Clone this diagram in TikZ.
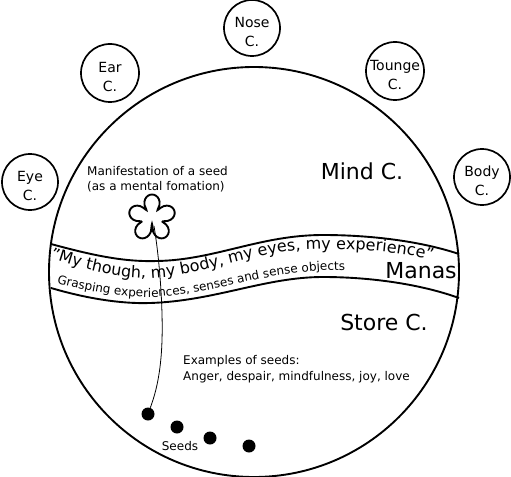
\documentclass[tikz,border=0pt]{standalone}
\usepackage{fontspec}
\setmainfont{DejaVu Sans}
\usetikzlibrary{decorations.text}
\tikzset{
 sense/.style={circle,draw,line width=1.7pt,minimum size=56bp,inner sep=0pt},
 senselabel/.style={inner sep=0pt,align=center,font=\fontsize{14bp}{19bp}\selectfont},
 seed/.style={circle,fill=black,minimum size=13bp,inner sep=0pt},
 big/.style={font=\fontsize{22bp}{26bp}\selectfont},
 small/.style={font=\fontsize{12bp}{15.5bp}\selectfont,align=left,inner sep=0pt},
 band/.style={line width=1.9pt},
}
\begin{document}
\begin{tikzpicture}[x=1bp,y=-1bp]
\useasboundingbox (0,0) rectangle (511,477);
\node[circle,draw,line width=1.9pt,minimum size=410bp,inner sep=0pt] (main) at (254,272) {};
\node[sense] (eye) at (30,182) {};
\node[sense,minimum size=58bp] (ear) at (110,73) {};
\node[sense] (nose) at (252,28) {};
\node[sense,minimum size=58bp] (tounge) at (395,71) {};
\node[sense] (body) at (482,177) {};
\node[senselabel] (eyet) at ([yshift=-4bp]eye.center) {Eye\\C.};
\node[senselabel] (eart) at ([yshift=-4bp]ear.center) {Ear\\C.};
\node[senselabel] (noset) at ([yshift=-4bp]nose.center) {Nose\\C.};
\node[senselabel] (tounget) at ([yshift=-4bp]tounge.center) {Tounge\\C.};
\node[senselabel] (bodyt) at ([yshift=-4bp]body.center) {Body\\C.};
\draw[band] (51,244) .. controls (95,256) and (125,262) .. (157,261) .. controls (215,260) and (260,235) .. (323,235) .. controls (370,235) and (420,241) .. (459,254);
\draw[band] (51,288) .. controls (85,298) and (120,304) .. (150,303) .. controls (215,301) and (265,277) .. (323,277) .. controls (370,277) and (420,284) .. (459,298);
\node[big] (mind) at (362,171) {Mind C.};
\node[big] (manas) at (421,271) {Manas};
\node[big] (store) at (384,322) {Store C.};
\node[small,anchor=west] (manif) at (87,179) {Manifestation of a seed\\(as a mental fomation)};
\node[small,anchor=west] (examples) at (183,369) {Examples of seeds:\\Anger, despair, mindfulness, joy, love};
\node[small] (seedlabel) at (180,446) {Seeds};
\path[decorate,decoration={text along path,text align={left indent=0pt},text={|\fontsize{16bp}{18bp}\selectfont|"My though, my body, my eyes, my experience"}}]
 (50,258) .. controls (82,269) and (117,278) .. (147,278) .. controls (202,277) and (247,253) .. (304,250) .. controls (347,248) and (397,250) .. (440,262);
\path[decorate,decoration={text along path,text align={left indent=0pt},text={|\fontsize{12bp}{14bp}\selectfont|Grasping experiences, senses and sense objects}}]
 (57,283) .. controls (90,292) and (125,298) .. (157,297) .. controls (220,293) and (265,270) .. (345,270);
\draw[line width=1.9pt,fill=white] plot[smooth cycle,samples=72,domain=0:355,variable=\t]
 ({152+(6+17.5*abs(cos(2.5*(\t-90)))^0.5)*cos(\t)},{218-(6+17.5*abs(cos(2.5*(\t-90)))^0.5)*sin(\t)});
\coordinate (stemtop) at (154,226);
\node[seed] (s1) at (148,414) {};
\node[seed] (s2) at (177,427) {};
\node[seed] (s3) at (210,438) {};
\node[seed] (s4) at (249,446) {};
\draw[line width=0.8pt] (stemtop) .. controls (160,262) and (163,310) .. (162,340) .. controls (161,375) and (155,395) .. (s1);
\end{tikzpicture}
\end{document}
